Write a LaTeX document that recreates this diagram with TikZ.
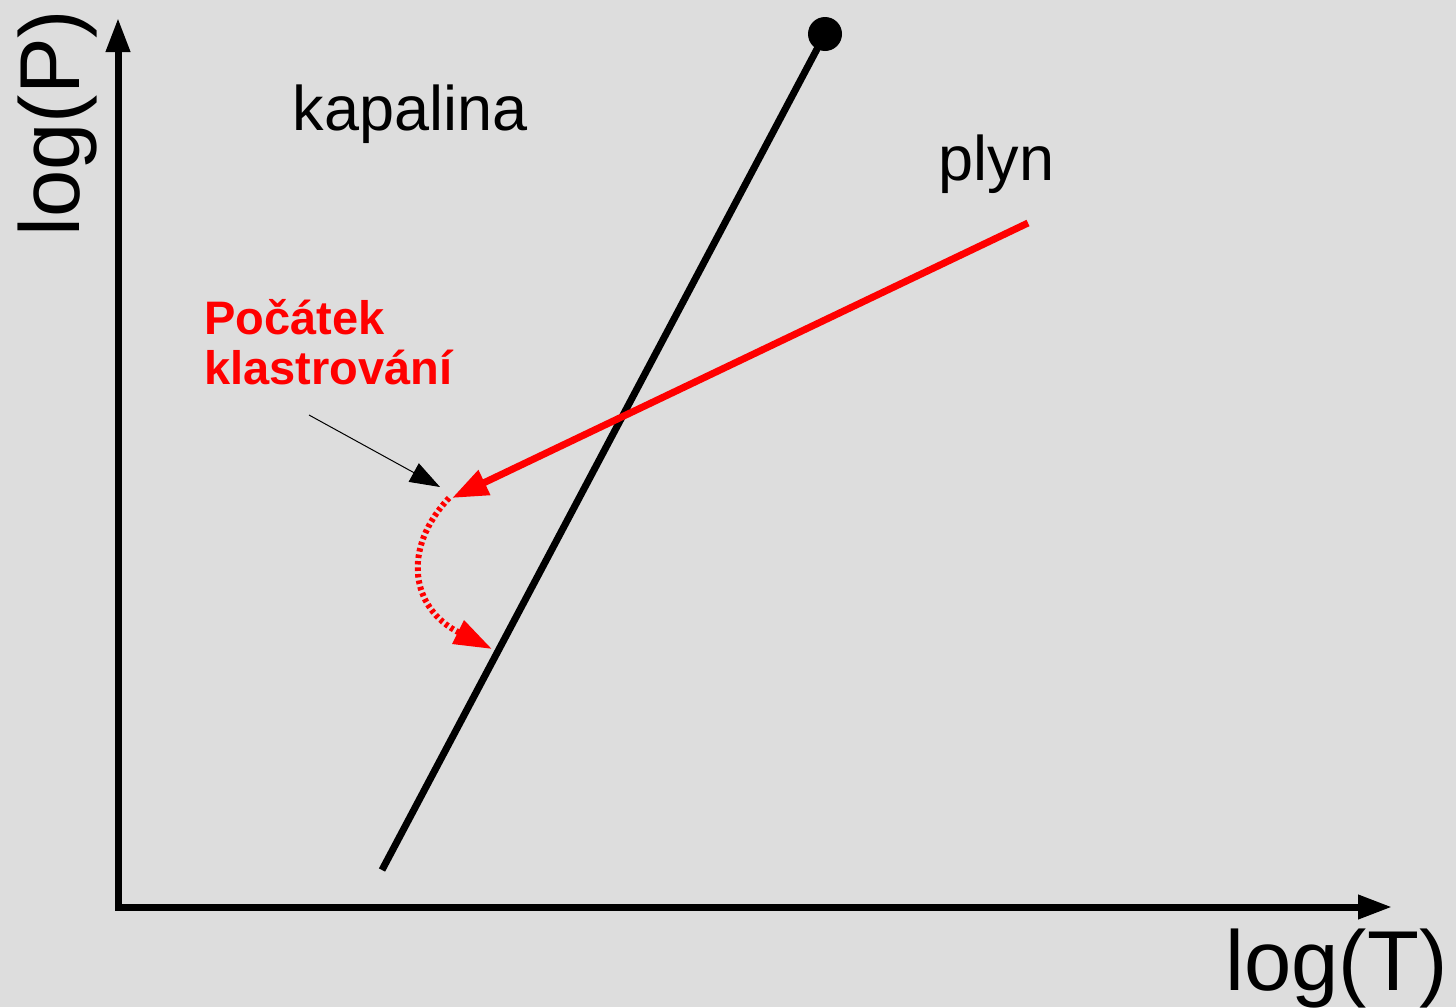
\documentclass[tikz,border=0pt]{standalone}
\usepackage{fontspec}
\setmainfont{Liberation Sans}
\usetikzlibrary{arrows.meta}
\definecolor{bggray}{RGB}{221,221,221}
\begin{document}
\begin{tikzpicture}[x=1pt,y=-1pt,line width=7pt,every node/.style={inner sep=0pt},
  phase/.style={font=\fontsize{63}{70}\selectfont},
  axislabel/.style={font=\fontsize{85}{90}\selectfont},
  note/.style={font=\fontsize{47}{50}\selectfont\bfseries,text=red,align=left}]
\fill[bggray] (0,0) rectangle (1456,1007);
\useasboundingbox (0,0) rectangle (1456,1007);
\coordinate (O) at (118,907);
\coordinate (Y) at (118,18);
\coordinate (X) at (1392,907);
\coordinate (L0) at (382,870);
\coordinate (C) at (825,34);
\coordinate (R0) at (1028,223);
\coordinate (R1) at (452,498);
\coordinate (A0) at (309,415);
\coordinate (A1) at (440,487);
\coordinate (B0) at (449,498);
\coordinate (B1) at (492,649);
% axes
\draw[{Triangle[length=34pt,width=23pt]}-{Triangle[length=34pt,width=23pt]},line join=miter] (Y) -- (O) -- (X);
% coexistence line and critical point
\draw[line width=7pt] (L0) -- (C);
\fill (C) circle[radius=17];
% expansion path
\draw[red,line width=7pt,-{Triangle[length=36pt,width=26pt]}] (R0) -- (R1);
\draw[line width=1pt,-{Triangle[length=30pt,width=21pt]}] (A0) -- (A1);
\draw[red,line width=6pt,dash pattern=on 3.5pt off 3pt,-{Triangle[length=38pt,width=25pt]}] (B0) .. controls (402,548) and (410,608) .. (B1);
\node[phase,anchor=base west] (kap) at (289,130) {kapalina};
\node[phase,anchor=base west] (gas) at (935,180) {plyn};
\node[axislabel,anchor=base west] (lt) at (1222,990) {log(T)};
\node[axislabel,anchor=base west,rotate=90] (lp) at (79,240) {log(P)};
\node[note,anchor=base west] (start) at (201,384) {Počátek\\klastrování};
\end{tikzpicture}
\end{document}
